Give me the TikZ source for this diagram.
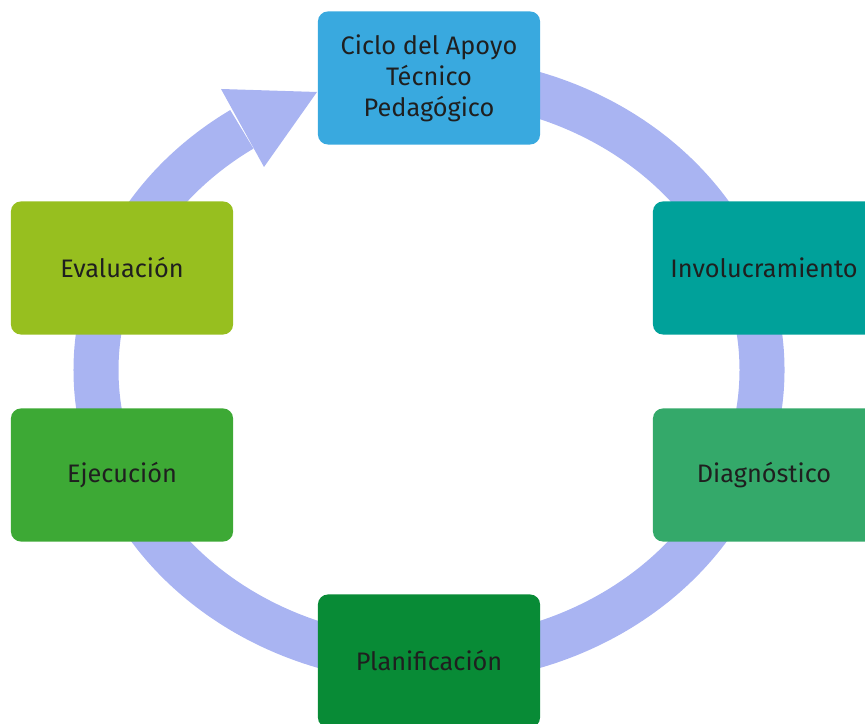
\documentclass[tikz,border=0pt]{standalone}
\usepackage{fontspec}
\setmainfont{Fira Sans}
\usetikzlibrary{positioning}
\definecolor{anillo}{HTML}{A9B4F2}
\definecolor{azulciclo}{HTML}{39A9DF}
\definecolor{verdeteal}{HTML}{00A19A}
\definecolor{verdediag}{HTML}{34A96A}
\definecolor{verdeplan}{HTML}{088B36}
\definecolor{verdeejec}{HTML}{3DA935}
\definecolor{verdeeval}{HTML}{97BF1F}
\begin{document}
\begin{tikzpicture}[x=0.025cm, y=0.025cm,
    etapa/.style={rounded corners=7pt, minimum width=5.55cm, minimum height=3.325cm,
      inner sep=0pt, align=center, text=black!88, font=\fontsize{18}{22}\selectfont},
    ring/.style={color=anillo, line width=1.125cm}]
  \useasboundingbox (0,0) rectangle (865,723);
  \clip (0,0) rectangle (865,723);
  % anillo del ciclo
  \draw[ring] (429,644) arc[start angle=90, end angle=-235.8, x radius=333, y radius=291];
  \coordinate (tip) at (317,631);
  \coordinate (hup) at (221,634);
  \coordinate (hlo) at (264,556);
  \fill[anillo] (tip) -- (hup) -- (hlo) -- cycle;
  % etapas
  \node[etapa, fill=azulciclo] (ciclo) at (429,645) {Ciclo del Apoyo\\Técnico\\Pedagógico};
  \node[etapa, fill=verdeteal] (invol) at (764,455) {Involucramiento};
  \node[etapa, fill=verdediag] (diag) at (764,248) {Diagnóstico};
  \node[etapa, fill=verdeplan] (plan) at (429,62) {Planificación};
  \node[etapa, fill=verdeejec] (ejec) at (122,248) {Ejecución};
  \node[etapa, fill=verdeeval] (eval) at (122,455) {Evaluación};
\end{tikzpicture}
\end{document}
